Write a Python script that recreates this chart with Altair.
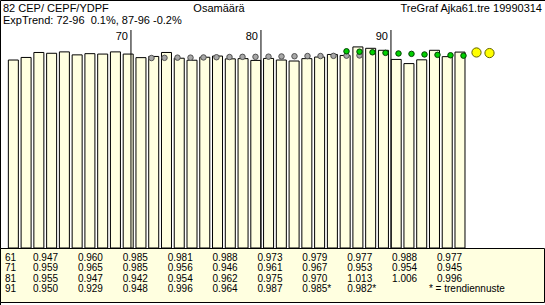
import altair as alt
import pandas as pd

# ---- data ----
years = list(range(61, 97))
ratio = [0.947, 0.960, 0.985, 0.981, 0.988, 0.973, 0.979, 0.977, 0.988, 0.977,
         0.959, 0.965, 0.985, 0.956, 0.946, 0.961, 0.967, 0.953, 0.954, 0.945,
         0.955, 0.947, 0.942, 0.954, 0.962, 0.975, 0.970, 1.013, 1.006, 0.996,
         0.950, 0.929, 0.948, 0.996, 0.964, 0.987]
forecast_years = [97, 98]
forecast = [0.985, 0.982]
trend_long_years = list(range(72, 89))
trend_long = [0.957, 0.958, 0.959, 0.959, 0.960, 0.961, 0.962, 0.963, 0.963,
              0.964, 0.965, 0.966, 0.967, 0.967, 0.968, 0.969, 0.970]
trend_short_years = list(range(87, 97))
trend_short = [0.991, 0.989, 0.986, 0.983, 0.980, 0.978, 0.975, 0.973, 0.971, 0.969]
decades = [70, 80, 90]
row_starts = [61, 71, 81, 91]

title_left = "82 CEP/ CEPF/YDPF"
title_mid = "Osamäärä"
title_right = "TreGraf Ajka61.tre 19990314"
subtitle = "ExpTrend: 72-96\u00a0 0.1%, 87-96 -0.2%"
legend_note = "* = trendiennuste"

W, H = 545, 305
FONT = "Liberation Sans"
TFONT = "Liberation Sans Narrow, Liberation Sans"
CREAM = "#FFFFE0"

# ---- scales ----
px_per_year = 13.0
x_left = 61 - 8.5 / px_per_year
x_right = x_left + W / px_per_year
base_px = 248.0
px_per_unit = 198.5
y_min = -(H - base_px) / px_per_unit
y_max = base_px / px_per_unit

xs = alt.Scale(domain=[x_left, x_right], nice=False, zero=False)
ys = alt.Scale(domain=[y_min, y_max], nice=False, zero=False)
noax = None

bars_df = pd.DataFrame({"year": years, "v": ratio})
long_df = pd.DataFrame({"year": trend_long_years, "v": trend_long})
short_df = pd.DataFrame({"year": trend_short_years, "v": trend_short})
fc_df = pd.DataFrame({"year": forecast_years, "v": forecast})
dec_df = pd.DataFrame({"d": decades})

# table cells
all_vals = dict(zip(years, ratio))
fc_vals = dict(zip(forecast_years, forecast))
cells = []
for r, s in enumerate(row_starts):
    cells.append({"row": r, "col": 0, "t": str(s)})
    for c in range(10):
        yr = s + c
        if yr in all_vals:
            cells.append({"row": r, "col": c + 1, "t": f"{all_vals[yr]:.3f}"})
        elif yr in fc_vals:
            cells.append({"row": r, "col": c + 1, "t": f"{fc_vals[yr]:.3f}*"})
cells.append({"row": 3, "col": 9.82, "t": legend_note})
cells_df = pd.DataFrame(cells)

X = lambda: alt.X("year:Q", scale=xs, axis=noax)
Y = lambda: alt.Y("v:Q", scale=ys, axis=noax)

table_bg = alt.Chart(pd.DataFrame({"a": [0]})).mark_rect(
    fill=CREAM, stroke="black", strokeWidth=1
).encode(x=alt.value(0.5), x2=alt.value(544.5), y=alt.value(248.5), y2=alt.value(302.5))

bars = alt.Chart(bars_df).mark_bar(
    size=10, fill=CREAM, stroke="black", strokeWidth=1
).encode(x=X(), y=Y(), y2=alt.datum(0))

rules = alt.Chart(dec_df).transform_calculate(year="datum.d + 0.42").mark_rule(
    color="black", strokeWidth=1
).encode(x=X(), y=alt.value(30), y2=alt.value(248))

dec_labels = alt.Chart(dec_df).transform_calculate(
    year="datum.d + 0.42", lab="'' + datum.d"
).mark_text(align="right", baseline="alphabetic", dx=-3, font=FONT, fontSize=11, color="black").encode(
    x=X(), y=alt.value(40), text="lab:N")

grey = alt.Chart(long_df).mark_circle(
    size=30, fill="#A8A8A8", stroke="#505050", strokeWidth=1, opacity=1
).encode(x=X(), y=Y())

green = alt.Chart(short_df).mark_circle(
    size=30, fill="#00D000", stroke="#004000", strokeWidth=1, opacity=1
).encode(x=X(), y=Y())

yellow = alt.Chart(fc_df).mark_circle(
    size=85, fill="#FFFF00", stroke="#606000", strokeWidth=1, opacity=1
).encode(x=X(), y=Y())

def header(txt, x, y, align):
    return alt.Chart(pd.DataFrame({"t": [txt]})).mark_text(
        align=align, baseline="alphabetic", font=FONT, fontSize=11, color="black"
    ).encode(x=alt.value(x), y=alt.value(y), text="t:N")

headers = (header(title_left, 3, 12, "left") + header(title_mid, 219, 12, "center")
           + header(title_right, 542, 12, "right") + header(subtitle, 3, 24, "left"))

table_text = alt.Chart(cells_df).mark_text(
    align="left", baseline="alphabetic", font=TFONT, fontSize=10, color="black"
).encode(
    x=alt.X("col:Q", scale=alt.Scale(domain=[0, 1, 10], range=[5, 33, 437]), axis=noax),
    y=alt.Y("row:Q", scale=alt.Scale(domain=[0, 3], range=[261, 292]), axis=noax),
    text="t:N",
)

chart = alt.layer(
    table_bg, bars, rules, dec_labels, grey, green, yellow, headers, table_text
).resolve_scale(x="independent", y="independent").properties(
    width=W, height=H, padding=0, autosize=alt.AutoSizeParams(type="none"),
    background="white",
).configure_view(stroke="black", strokeWidth=1)

chart.save("out.html", embed_options={"renderer": "svg", "actions": False})
